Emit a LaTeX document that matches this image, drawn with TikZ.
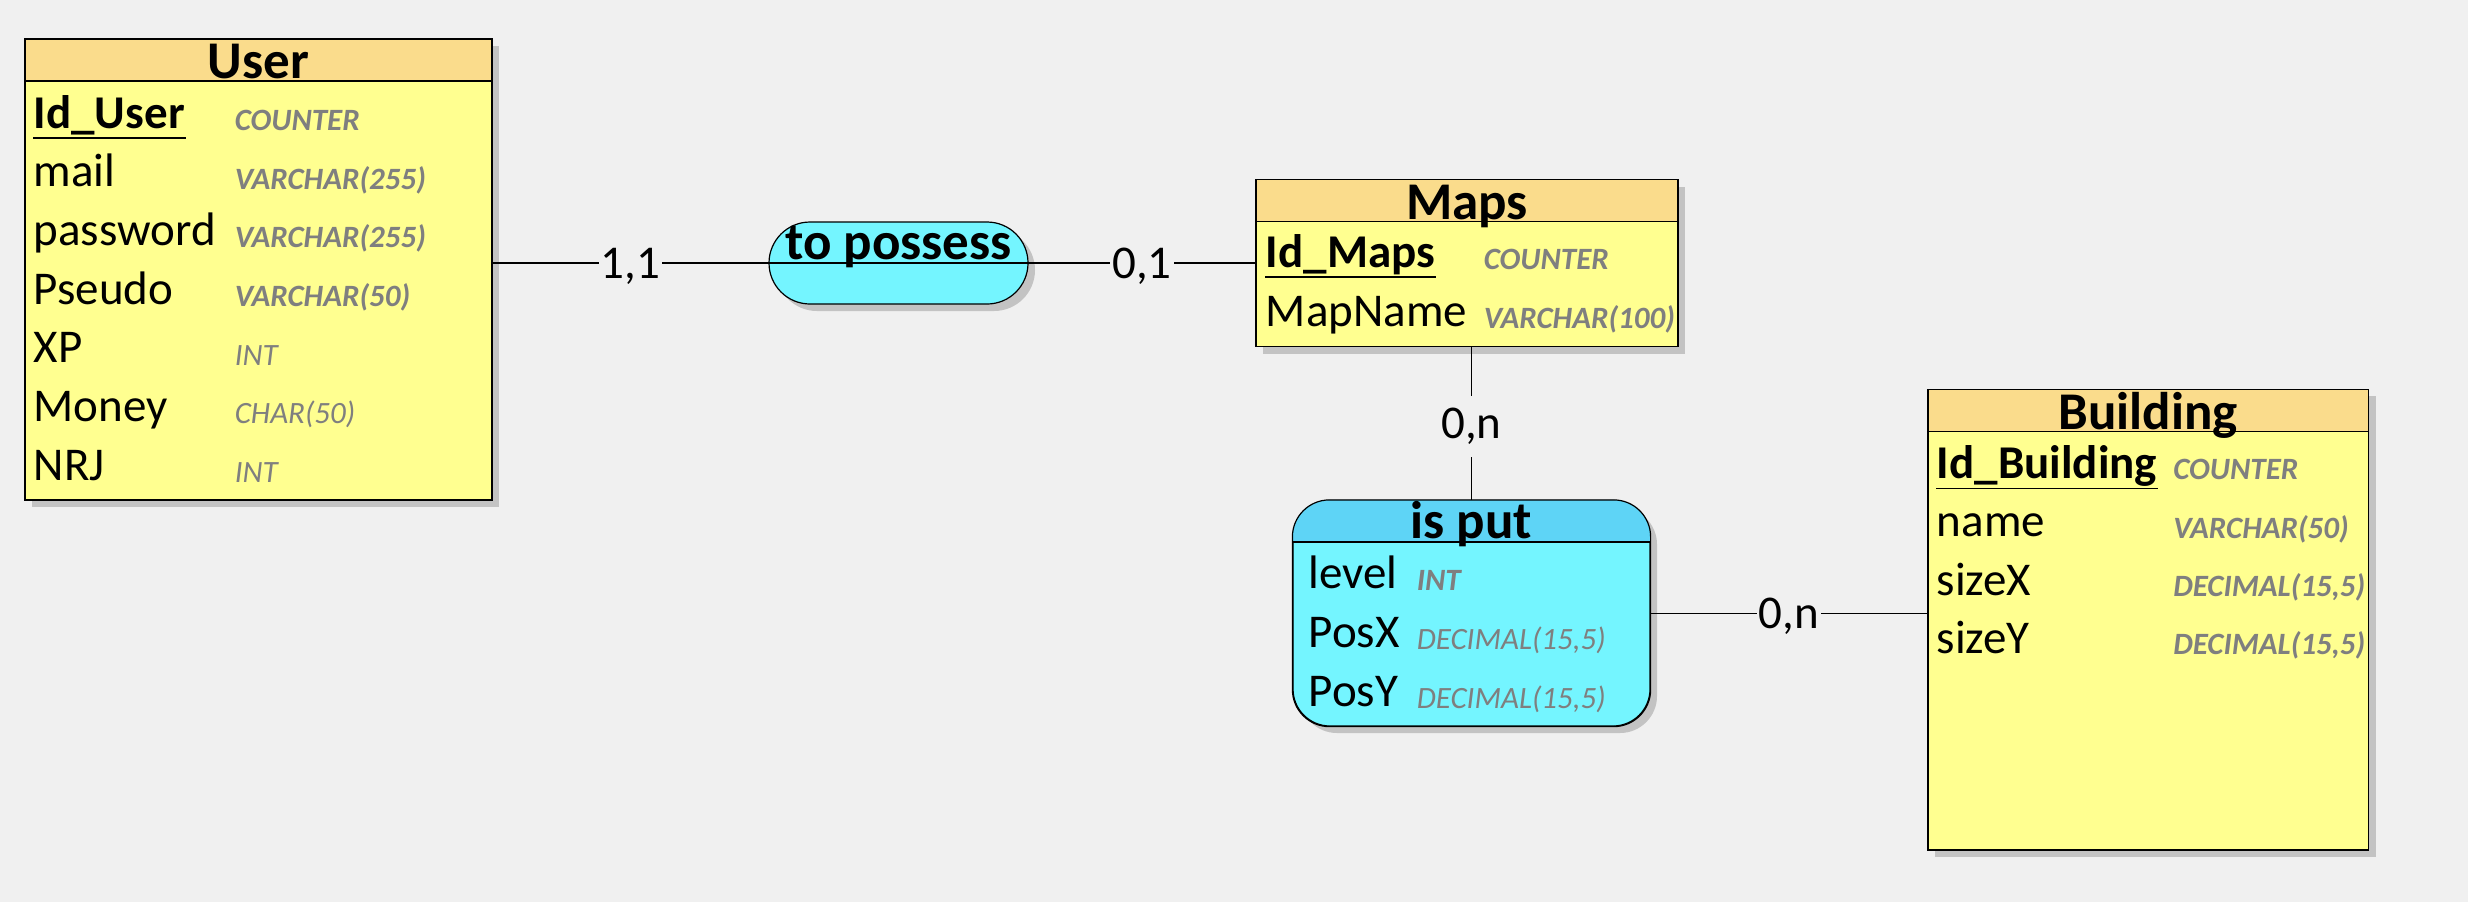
\documentclass[tikz,border=0pt]{standalone}
\usepackage{fontspec}
\setmainfont{Carlito}
\usepackage{xcolor}
\usepackage{tikz}
\usetikzlibrary{fit,shadows}
\definecolor{bg}{HTML}{F0F0F0}
\definecolor{enthead}{HTML}{FADC8C}
\definecolor{entbody}{HTML}{FFFF90}
\definecolor{assohead}{HTML}{5ED4F6}
\definecolor{assobody}{HTML}{74F5FF}
\definecolor{typegray}{HTML}{7F7F7F}
\definecolor{shade}{HTML}{C3C3C3}
\tikzset{
  box/.style={draw=black, line width=0.3pt, inner sep=0pt,
    drop shadow={shadow xshift=1.75pt, shadow yshift=-1.75pt, fill=shade, opacity=1}},
  entity/.style={box, fill=entbody},
  asso/.style={box, fill=assobody},
  headbar/.style={draw=black, line width=0.3pt, fill=enthead, inner sep=0pt},
  link/.style={draw=black, line width=0.3pt},
  title/.style={anchor=base, inner sep=0pt, font=\fontsize{13.25pt}{16pt}\selectfont\bfseries},
  attr/.style={anchor=base west, inner sep=0pt, font=\fontsize{11.75pt}{14pt}\selectfont},
  key/.style={attr, font=\fontsize{11.75pt}{14pt}\selectfont\bfseries},
  typ/.style={anchor=base west, inner sep=0pt, text=typegray, font=\fontsize{7.75pt}{9pt}\selectfont\itshape},
  typb/.style={typ, font=\fontsize{7.75pt}{9pt}\selectfont\bfseries\itshape},
  card/.style={anchor=base, fill=bg, inner xsep=0.5pt, inner ysep=3pt, yshift=-3.75pt,
    font=\fontsize{11.75pt}{14pt}\selectfont},
}

\begin{document}
\begin{tikzpicture}[x=0.25pt, y=-0.25pt]
  \fill[bg] (0,0) rectangle (2468,902);
  \useasboundingbox (0,0) rectangle (2468,902);

  % User
  \node[entity, fit={(25,39) (492,500)}] (User) {};
  \node[headbar, fit={(25,39) (492,81)}] (UserHead) {};
  \node[title] (uTitle) at (258.5,78) {User};
  \node[key] (uId) at (33,128) {Id\_User};
  \node[attr] (uMail) at (33,186.7) {mail};
  \node[attr] (uPass) at (33,245.3) {password};
  \node[attr] (uPseudo) at (33,304) {Pseudo};
  \node[attr] (uXp) at (33,362.7) {XP};
  \node[attr] (uMoney) at (33,421.3) {Money};
  \node[attr] (uNrj) at (33,480) {NRJ};
  \node[typb] (uIdT) at (234,130.5) {COUNTER};
  \node[typb] (uMailT) at (234,189.2) {VARCHAR(255)};
  \node[typb] (uPassT) at (234,247.8) {VARCHAR(255)};
  \node[typb] (uPseudoT) at (234,306.5) {VARCHAR(50)};
  \node[typ] (uXpT) at (234,365.2) {INT};
  \node[typ] (uMoneyT) at (234,423.8) {CHAR(50)};
  \node[typ] (uNrjT) at (234,482.5) {INT};
  \draw[line width=0.35pt] ([yshift=-2.5pt]uId.base west) -- ([yshift=-2.5pt]uId.base east);

  % to possess
  \node[asso, rounded corners=10.25pt, fit={(769,222) (1028,304)}] (Possess) {};
  \draw[link] (Possess.west) -- (Possess.east);
  \node[title] (pTitle) at (898.5,259) {to possess};

  % Maps
  \node[entity, fit={(1256,179.5) (1678,346.5)}] (Maps) {};
  \node[headbar, fit={(1256,179.5) (1678,221.5)}] (MapsHead) {};
  \node[title] (mTitle) at (1467,219) {Maps};
  \node[key] (mId) at (1265,267) {Id\_Maps};
  \node[attr] (mName) at (1265,326) {MapName};
  \node[typb] (mIdT) at (1483,269) {COUNTER};
  \node[typb] (mNameT) at (1483,328) {VARCHAR(100)};
  \draw[line width=0.35pt] ([yshift=-2.5pt]mId.base west) -- ([yshift=-2.5pt]mId.base east);

  % is put
  \node[asso, rounded corners=9.25pt, fit={(1293,500.5) (1650,726)}] (IsPut) {};
  \begin{scope}
    \clip (IsPut.north west) rectangle (1650,542);
    \fill[assohead, rounded corners=9.25pt] (IsPut.north west) rectangle (IsPut.south east);
  \end{scope}
  \draw[link] (IsPut.west |- 0,542) -- (IsPut.east |- 0,542);
  \draw[link, rounded corners=9.25pt] (IsPut.north west) rectangle (IsPut.south east);
  \node[title] (iTitle) at (1471.5,538.6) {is put};
  \node[attr] (iLevel) at (1308,588.5) {level};
  \node[attr] (iPosX) at (1308,647.3) {PosX};
  \node[attr] (iPosY) at (1308,706) {PosY};
  \node[typb] (iLevelT) at (1416,590.5) {INT};
  \node[typ] (iPosXT) at (1416,649.3) {DECIMAL(15,5)};
  \node[typ] (iPosYT) at (1416,708) {DECIMAL(15,5)};

  % Building
  \node[entity, fit={(1928,389.3) (2368.5,850)}] (Building) {};
  \node[headbar, fit={(1928,389.3) (2368.5,431.7)}] (BuildingHead) {};
  \node[title] (bTitle) at (2148,429.3) {Building};
  \node[key] (bId) at (1936,478.3) {Id\_Building};
  \node[attr] (bName) at (1936,536.6) {name};
  \node[attr] (bSizeX) at (1936,595) {sizeX};
  \node[attr] (bSizeY) at (1936,653.3) {sizeY};
  \node[typb] (bIdT) at (2172.5,479.8) {COUNTER};
  \node[typb] (bNameT) at (2172.5,538.1) {VARCHAR(50)};
  \node[typb] (bSizeXT) at (2172.5,596.5) {DECIMAL(15,5)};
  \node[typb] (bSizeYT) at (2172.5,654.8) {DECIMAL(15,5)};
  \draw[line width=0.35pt] ([yshift=-2.5pt]bId.base west) -- ([yshift=-2.5pt]bId.base east);

  % links
  \draw[link] (Possess.west -| User.east) -- node[card] (c1) {1,1} (Possess.west);
  \draw[link] (Possess.east) -- node[card] (c2) {0,1} (Possess.east -| Maps.west);
  \draw[link] (IsPut.north |- Maps.south) -- node[card] (c3) {0,n} (IsPut.north);
  \draw[link] (IsPut.east) -- node[card] (c4) {0,n} (IsPut.east -| Building.west);
\end{tikzpicture}
\end{document}
